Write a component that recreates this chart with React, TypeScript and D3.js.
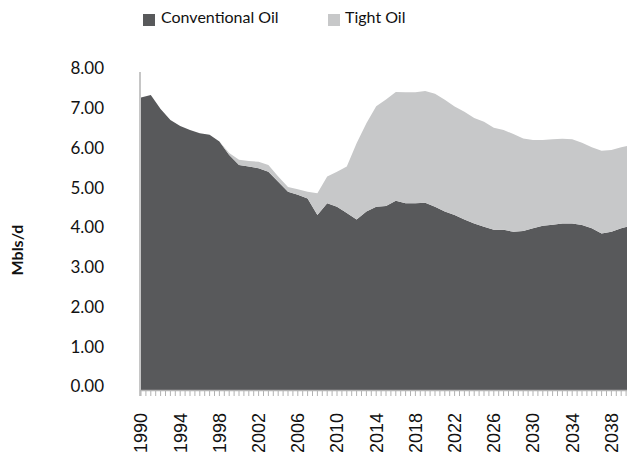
import React from "react";
import * as d3 from "d3";

const years = d3.range(1990, 2041);
const conventional = [
  7.36, 7.42, 7.07, 6.79, 6.64, 6.54, 6.46, 6.42, 6.25, 5.91,
  5.66, 5.62, 5.58, 5.49, 5.24, 4.99, 4.91, 4.82, 4.40, 4.70,
  4.61, 4.45, 4.29, 4.49, 4.61, 4.63, 4.76, 4.70, 4.70, 4.71,
  4.61, 4.49, 4.40, 4.29, 4.19, 4.11, 4.03, 4.03, 3.98, 4.00,
  4.07, 4.13, 4.16, 4.19, 4.19, 4.15, 4.07, 3.94, 3.98, 4.07,
  4.13,
];
const tight = [
  0, 0, 0, 0, 0, 0, 0, 0, 0, 0.05,
  0.13, 0.14, 0.16, 0.17, 0.13, 0.12, 0.14, 0.17, 0.55, 0.67,
  0.88, 1.17, 1.92, 2.22, 2.53, 2.68, 2.74, 2.79, 2.79, 2.81,
  2.84, 2.81, 2.73, 2.71, 2.65, 2.64, 2.57, 2.51, 2.46, 2.33,
  2.22, 2.16, 2.15, 2.13, 2.12, 2.07, 2.04, 2.08, 2.06, 2.04,
  2.03,
];
const seriesNames = ["Conventional Oil", "Tight Oil"];
const yTicks = [0, 1, 2, 3, 4, 5, 6, 7, 8];
const xLabelYears = d3.range(1990, 2039, 4);
const yLabel = "Mbls/d";

const COLORS = ["#58595b", "#c7c8c9"];
const AXIS = "#b3b3b3";

export default function App() {
  const x = d3.scaleLinear().domain([1990, 2040]).range([141, 631]);
  const y = d3.scaleLinear().domain([0, 8]).range([390, 72]);

  const rows = years.map((yr, i) => ({ year: yr, conv: conventional[i], tight: tight[i] }));
  const stack = d3.stack<any>().keys(["conv", "tight"])(rows);
  const area = d3
    .area<any>()
    .x((d) => x(d.data.year))
    .y0((d) => y(d[0]))
    .y1((d) => y(d[1]));

  const minorTicks = d3.range(1990, 2040.01, 0.5);

  return (
    <svg
      width={627}
      height={457}
      style={{ position: "absolute", left: 0, top: 0, background: "#fff" }}
    >
      {/* legend */}
      <g fontFamily="Lato, 'Open Sans', sans-serif" fontSize={16} fill="#111">
        <rect x={143} y={14} width={12} height={12} fill={COLORS[0]} />
        <text x={161} y={23}>{seriesNames[0]}</text>
        <rect x={328} y={14} width={12} height={12} fill={COLORS[1]} />
        <text x={345} y={23}>{seriesNames[1]}</text>
      </g>

      {/* areas */}
      {stack.map((s, i) => (
        <path key={i} d={area(s) || ""} fill={COLORS[i]} />
      ))}

      {/* axes */}
      <line x1={140} x2={140} y1={72} y2={396} stroke={AXIS} strokeWidth={1.5} />
      <line x1={140} x2={627} y1={390.5} y2={390.5} stroke={AXIS} strokeWidth={1.5} />
      {minorTicks.map((t, i) => (
        <line key={i} x1={x(t)} x2={x(t)} y1={390} y2={396} stroke={AXIS} strokeWidth={1} />
      ))}

      {/* y tick labels */}
      <g fontFamily="Lato, 'Open Sans', sans-serif" fontSize={17} fill="#111" textAnchor="end">
        {yTicks.map((t) => (
          <text key={t} x={104} y={y(t) - 2} dominantBaseline="middle">
            {t.toFixed(2)}
          </text>
        ))}
      </g>

      {/* x tick labels */}
      <g fontFamily="'Liberation Sans', Arial, sans-serif" fontSize={18} fill="#111" textAnchor="end">
        {xLabelYears.map((t) => (
          <text
            key={t}
            transform={`translate(${x(t)},413) rotate(-90)`}
            dy="0.35em"
          >
            {t}
          </text>
        ))}
      </g>

      {/* y axis title */}
      <text
        transform="translate(17,250) rotate(-90)"
        textAnchor="middle"
        dy="0.35em"
        fontFamily="Lato, 'Open Sans', sans-serif"
        fontWeight="bold"
        fontSize={16}
        fill="#111"
      >
        {yLabel}
      </text>
    </svg>
  );
}
